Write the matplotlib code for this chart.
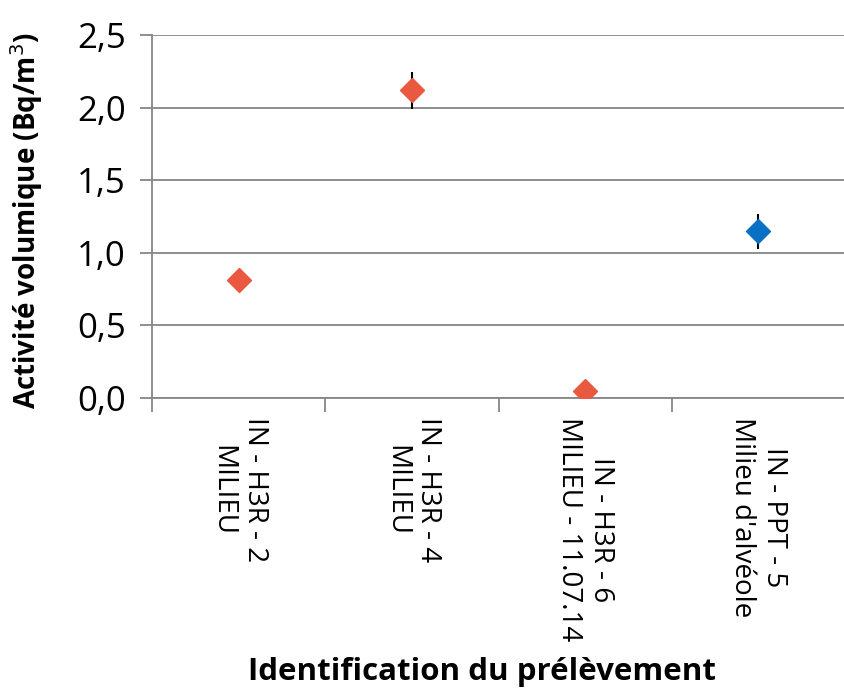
import matplotlib
matplotlib.use('Agg')
import matplotlib.pyplot as plt
from matplotlib import ticker

plt.rcParams['font.family'] = ['Open Sans', 'DejaVu Sans']

categories = ['IN - H3R - 2\nMILIEU', 'IN - H3R - 4\nMILIEU',
              'IN - H3R - 6\nMILIEU - 11.07.14', 'IN - PPT - 5\nMilieu d\'alvéole']
values = [0.81, 2.12, 0.05, 1.15]
errors = [0.0, 0.13, 0.0, 0.12]
colors = ['#E8593F', '#E8593F', '#E8593F', '#0A70C6']

fig = plt.figure(figsize=(8.45, 6.91), dpi=100)
ax = fig.add_axes([0.18, 0.424, 0.82, 0.525])

x = list(range(len(categories)))
for i in x:
    if errors[i] > 0:
        ax.errorbar(i, values[i], yerr=errors[i], fmt='none', ecolor='black',
                    elinewidth=1.5, capsize=0, zorder=2)
    ax.plot(i, values[i], marker='D', markersize=12, color=colors[i],
            markeredgecolor=colors[i], linestyle='none', zorder=3)

ax.set_xlim(-0.5, len(categories) - 0.5)
ax.set_ylim(0, 2.5)
ax.yaxis.set_major_locator(ticker.MultipleLocator(0.5))
ax.yaxis.set_major_formatter(ticker.FuncFormatter(lambda v, p: f'{v:.1f}'.replace('.', ',')))

# lignes de grille horizontales
ax.grid(True, axis='y', color='#868686', linewidth=1.3)
ax.set_axisbelow(True)

for s in ['top', 'right']:
    ax.spines[s].set_visible(False)
for s in ['left', 'bottom']:
    ax.spines[s].set_color('#868686')
    ax.spines[s].set_linewidth(1.3)

# graduations aux limites des catégories
ax.set_xticks([i - 0.5 for i in range(len(categories) + 1)])
ax.set_xticklabels([])
ax.set_xticks(x, minor=True)
ax.set_xticklabels(categories, minor=True, rotation=-90, rotation_mode='anchor',
                   ha='left', va='center', multialignment='center', fontsize=20)
ax.tick_params(axis='x', which='major', length=10, color='#868686', width=1.3)
ax.tick_params(axis='x', which='minor', length=0, pad=14)
ax.tick_params(axis='y', length=9, color='#868686', width=1.3, labelsize=25, pad=10)

ax.set_ylabel('Activité volumique (Bq/m$^3$)', fontsize=20, fontweight='bold')
ax.yaxis.set_label_coords(-0.155, 0.49)
fig.text(0.57, 0.028, 'Identification du prélèvement', fontsize=22.5,
         fontweight='bold', ha='center', va='center')

fig.savefig('out.png', dpi=100)
